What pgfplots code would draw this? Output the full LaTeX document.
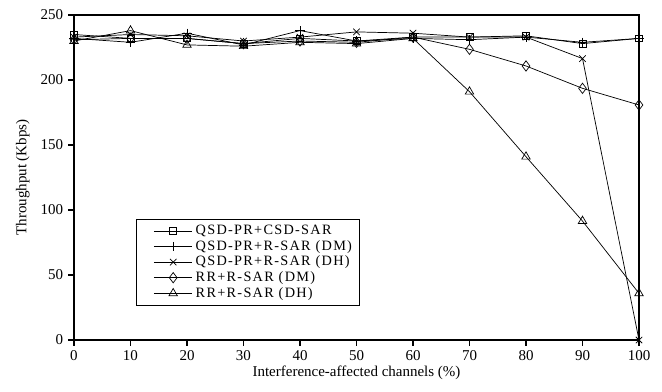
\documentclass[border=0pt]{standalone}
\usepackage{pgfplots}
\pgfplotsset{compat=1.18}
\usepackage{fontspec}
\setmainfont{Liberation Serif}
\newfontfamily\legfont[LetterSpace=9]{Liberation Serif}
\begin{document}
\begin{tikzpicture}
\begin{axis}[
  at={(0,0)}, anchor=origin,
  scale only axis,
  width=395.5pt, height=227.5pt,
  xmin=0, xmax=100, ymin=0, ymax=250,
  xtick={0,10,...,100}, ytick={0,50,...,250},
  tick align=outside, tick pos=left,
  major tick length=4pt,
  /pgf/number format/assume math mode=true,
  tick label style={font=\fontsize{10.5}{12}\selectfont},
  label style={font=\fontsize{10.5}{12}\selectfont},
  xlabel={Interference-affected channels (\%)},
  ylabel={Throughput (Kbps)},
  xlabel style={yshift=3pt},
  ylabel style={yshift=1pt},
  axis line style={line width=1.1pt},
  every tick/.style={line width=0.9pt, black},
  legend cell align=left,
  legend style={at={(rel axis cs:0.1097,0.372)}, anchor=north west,
    draw=black, line width=0.6pt, font=\legfont\fontsize{10}{11}\selectfont,
    inner xsep=3pt, inner ysep=2pt, row sep=-1.5pt},
  legend image code/.code={\path (-9pt,0pt) (27pt,0pt);\draw[mark repeat=2,mark phase=2,#1] plot coordinates {(0pt,0pt)(13.5pt,0pt)(27pt,0pt)};},
]
\addplot[black, line width=0.5pt, mark=square, mark size=2.4pt, mark options={solid, fill=white, line width=0.5pt}] coordinates {(0,235)(10,232)(20,232)(30,228)(40,232)(50,230)(60,233)(70,233)(80,234)(90,228)(100,232)};
\addlegendentry{QSD-PR+CSD-SAR}
\addplot[black, line width=0.5pt, mark=+, mark size=3.2pt, mark options={solid, line width=0.5pt}] coordinates {(0,232)(10,229)(20,236)(30,227)(40,238)(50,230)(60,232)(70,231)(80,233)(90,229)(100,232)};
\addlegendentry{QSD-PR+R-SAR (DM)}
\addplot[black, line width=0.5pt, mark=x, mark size=3.2pt, mark options={solid, line width=0.5pt}] coordinates {(0,233)(10,235)(20,234)(30,230)(40,233)(50,237)(60,236)(70,233)(80,233)(90,216.5)(100,0)};
\addlegendentry{QSD-PR+R-SAR (DH)}
\addplot[black, line width=0.5pt, mark=diamond, mark size=3.6pt, mark options={solid, fill=white, line width=0.5pt}] coordinates {(0,231)(10,232)(20,232)(30,228)(40,230)(50,229)(60,233)(70,223.6)(80,210.8)(90,193.6)(100,180.8)};
\addlegendentry{RR+R-SAR (DM)}
\addplot[black, line width=0.5pt, mark=triangle, mark size=3.4pt, mark options={solid, fill=white, line width=0.5pt}] coordinates {(0,230)(10,238)(20,227)(30,226)(40,229)(50,228)(60,232)(70,191)(80,141)(90,91.5)(100,35.9)};
\addlegendentry{RR+R-SAR (DH)}
\end{axis}
\pgfresetboundingbox
\useasboundingbox (-51.8pt,-35.7pt) rectangle (411.6pt,238pt);
\end{tikzpicture}
\end{document}
